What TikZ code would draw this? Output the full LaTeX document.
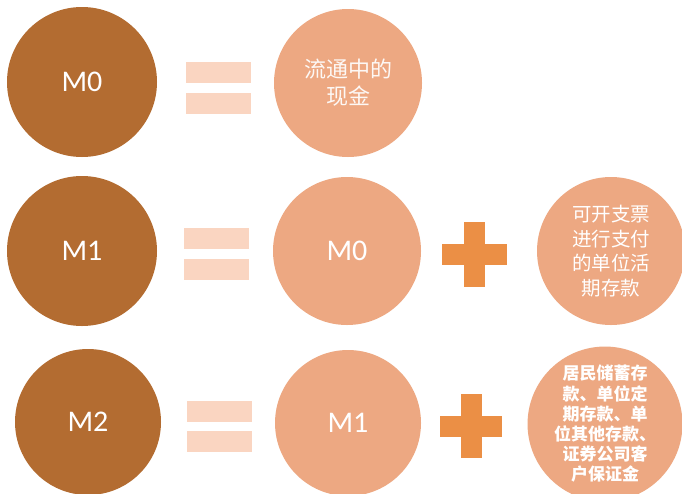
\documentclass[tikz,border=0pt]{standalone}
\usepackage{fontspec}
\setmainfont{Carlito}
\newfontfamily\cjk{Noto Sans CJK SC}
\definecolor{mdark}{HTML}{B36C31}
\definecolor{mlight}{HTML}{EDA882}
\definecolor{mbar}{HTML}{FAD5C1}
\definecolor{mplus}{HTML}{EB8F45}
\begin{document}
\begin{tikzpicture}[x=1pt,y=-1pt,
  big/.style={circle, fill=mdark, minimum size=150pt, inner sep=0pt, text=white, font=\fontsize{30}{30}\selectfont},
  light/.style={circle, fill=mlight, minimum size=148pt, inner sep=0pt, text=white, align=center},
  lightM/.style={light, font=\fontsize{30}{30}\selectfont},
  bar/.style={fill=mbar, minimum width=65pt, minimum height=21pt, inner sep=0pt},
  plush/.style={fill=mplus, minimum width=65pt, minimum height=21pt, inner sep=0pt},
  plusv/.style={fill=mplus, minimum width=21pt, minimum height=65pt, inner sep=0pt}]
\clip (0,0) rectangle (682,493);
\fill[white] (0,0) rectangle (682,493);
% Row 1
\node[big] (m0) at (82,82) {M0};
\node[bar] (eqa1) at (218,72) {};
\node[bar] (eqa2) at (218,103.5) {};
\node[light, font=\cjk\fontsize{22}{27}\selectfont, text=white!92!mlight] (cash) at (348,83) {流通中的\\现金};
% Row 2
\node[big] (m1) at (82,251) {M1};
\node[bar] (eqb1) at (216,238.5) {};
\node[bar] (eqb2) at (216,269.5) {};
\node[lightM] (m0b) at (347,251) {M0};
\node[plush] (plb1) at (474.5,254.5) {};
\node[plusv] (plb2) at (474.5,254.5) {};
\node[light, font=\cjk\fontsize{19.5}{24.5}\selectfont] (dd) at (611,251) {可开支票\\进行支付\\的单位活\\期存款};
% Row 3
\node[big, minimum size=146pt] (m2) at (88,422) {M2};
\node[bar] (eqc1) at (219,411) {};
\node[bar] (eqc2) at (219,441.5) {};
\node[lightM, minimum size=146pt] (m1b) at (348,423) {M1};
\node[plush, minimum width=62pt] (plc1) at (471,426.5) {};
\node[plusv, minimum height=64pt] (plc2) at (471,426) {};
\node[light, minimum size=144pt, font=\cjk\bfseries\fontsize{17}{20.2}\selectfont] (qm) at (605,424) {居民储蓄存\\款、单位定\\期存款、单\\位其他存款、\\证券公司客\\户保证金};
\end{tikzpicture}
\end{document}
